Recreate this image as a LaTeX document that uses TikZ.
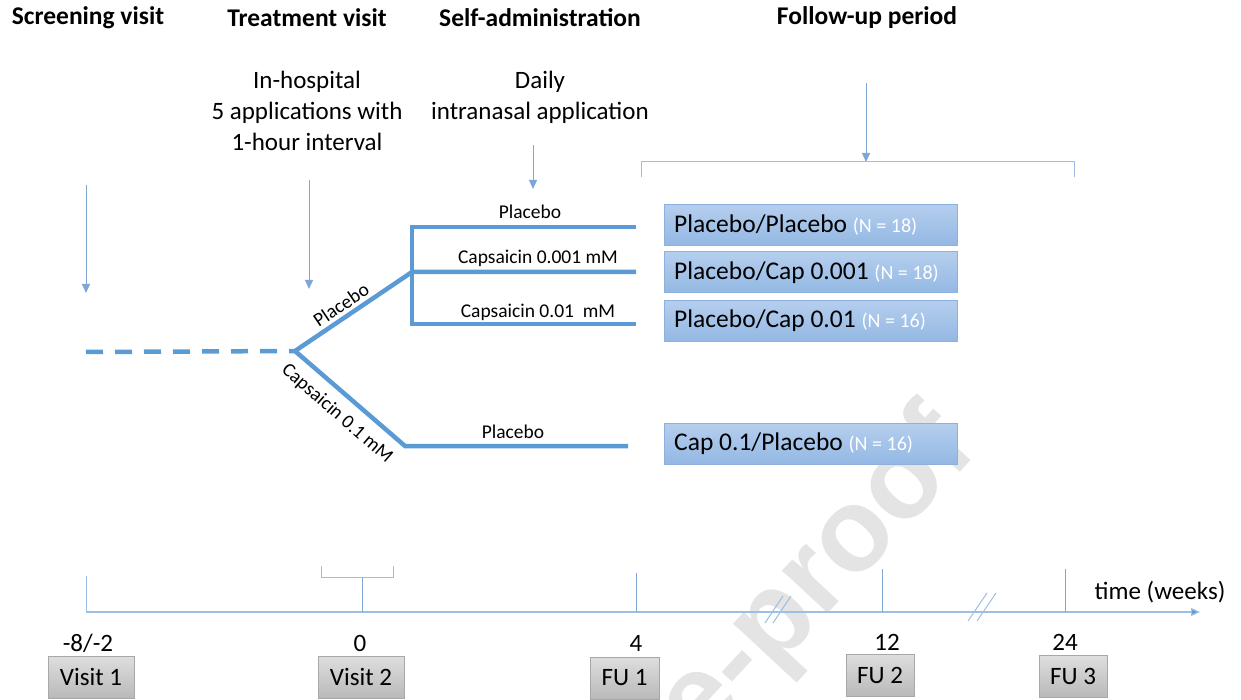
\documentclass[tikz,border=0pt]{standalone}
\usepackage{fontspec}
\setmainfont{Carlito}
\newfontfamily\wmfont{Liberation Sans}
\usetikzlibrary{arrows.meta}
\definecolor{accblue}{HTML}{5B9BD5}
\definecolor{thinblue}{HTML}{7EA6D6}
\definecolor{axisblue}{HTML}{9DBFE3}
\definecolor{boxtop}{HTML}{B5CEEE}
\definecolor{boxbot}{HTML}{93B8E3}
\definecolor{boxline}{HTML}{8DB1DD}
\definecolor{greytop}{HTML}{DEDEDE}
\definecolor{greybot}{HTML}{B9B9B9}
\definecolor{greyline}{HTML}{A8A8A8}
\definecolor{wmgrey}{HTML}{E4E4E4}
\newcommand\nlabtxt[1]{{\fontsize{20}{22}\selectfont\color{white}#1}}
\tikzset{
  head/.style={font=\fontsize{25.5}{30}\selectfont\bfseries, inner sep=0pt},
  body/.style={font=\fontsize{25}{31}\selectfont, inner sep=0pt, align=center},
  small/.style={font=\fontsize{19.5}{23}\selectfont, inner sep=0pt},
  tree/.style={draw=accblue, line width=4.5pt},
  thinarrow/.style={draw=thinblue, line width=1pt, -{Triangle[width=8pt,length=9pt]}},
  thinline/.style={draw=thinblue, line width=1pt},
  grpbox/.style={draw=boxline, line width=1pt, top color=boxtop, bottom color=boxbot,
    minimum width=293pt, minimum height=41pt, anchor=west, inner sep=0pt},
  grptext/.style={anchor=west, inner sep=0pt, font=\fontsize{25.5}{30}\selectfont},
  visitbox/.style={draw=greyline, line width=1pt, top color=greytop, bottom color=greybot,
    minimum height=42pt, inner sep=0pt, font=\fontsize{25}{30}\selectfont},
  num/.style={font=\fontsize{25}{30}\selectfont, inner sep=0pt},
}
\begin{document}
\begin{tikzpicture}[x=1pt,y=-1pt]
\useasboundingbox (0,0) rectangle (1241,700);
\begin{scope}
\clip (0,0) rectangle (1241,700);
\node[rotate=47, text=wmgrey, font=\fontsize{118}{118}\wmfont\bfseries, inner sep=0pt] (wm) at (818,580) {e-proof};
\end{scope}

% headings
\node[head] (h1) at (88,18) {Screening visit};
\node[head] (h2) at (307,18) {Treatment visit};
\node[head] (h3) at (540,18) {Self-administration};
\node[head] (h4) at (867,18) {Follow-up period};

\node[body] (d1) at (307,111) {In-hospital\\5 applications with\\1-hour interval};
\node[body] (d2) at (540,97) {Daily\\intranasal application};

% arrows from top
\coordinate (a1s) at (86,185); \coordinate (a1e) at (86,293);
\coordinate (a2s) at (309,180); \coordinate (a2e) at (309,289);
\coordinate (a3s) at (533,145); \coordinate (a3e) at (533,189);
\coordinate (a4s) at (866,83);  \coordinate (a4e) at (866,162);
\draw[thinarrow] (a1s) -- (a1e);
\draw[thinarrow] (a2s) -- (a2e);
\draw[thinarrow] (a3s) -- (a3e);
\draw[thinarrow] (a4s) -- (a4e);

% follow-up bracket
\coordinate (fb1) at (641,177); \coordinate (fb2) at (641,162);
\coordinate (fb3) at (1074,162); \coordinate (fb4) at (1074,177);
\draw[thinline, draw=axisblue] (fb1) -- (fb2) -- (fb3) -- (fb4);

% tree
\coordinate (s0) at (86,352);
\coordinate (sp) at (295,351);
\coordinate (up) at (412,272);
\coordinate (lo) at (405,446);
\coordinate (v1) at (412,227);
\coordinate (v3) at (412,324);
\coordinate (e1) at (636,227);
\coordinate (e2) at (636,272);
\coordinate (e3) at (636,324);
\coordinate (e4) at (628,446);
\draw[tree, dash pattern=on 17pt off 12pt] (s0) -- (sp);
\draw[tree, line join=miter] (e1) -- (v1) -- (v3) -- (e3);
\draw[tree] (sp) -- (up) -- (e2);
\draw[tree, line join=miter] (sp) -- (lo) -- (e4);

\node[small] (l1) at (530,212) {Placebo};
\node[small] (l2) at (538,258) {Capsaicin 0.001 mM};
\node[small] (l3) at (538,312) {Capsaicin 0.01\ \ mM};
\node[small] (l4) at (513,432) {Placebo};
\node[small, rotate=34] (l5) at (341,305) {Placebo};
\node[small, rotate=-41] (l6) at (337,414) {Capsaicin 0.1 mM};

% group boxes
\node[grpbox] (g1) at (664,225) {};
\node[grpbox] (g2) at (664,272.5) {};
\node[grpbox] (g3) at (664,321) {};
\node[grpbox] (g4) at (664,444) {};
\node[grptext] (g1t) at ([xshift=10pt]g1.west) {Placebo/Placebo \nlabtxt{(N = 18)}};
\node[grptext] (g2t) at ([xshift=10pt]g2.west) {Placebo/Cap 0.001 \nlabtxt{(N = 18)}};
\node[grptext] (g3t) at ([xshift=10pt]g3.west) {Placebo/Cap 0.01 \nlabtxt{(N = 16)}};
\node[grptext] (g4t) at ([xshift=10pt]g4.west) {Cap 0.1/Placebo \nlabtxt{(N = 16)}};

% timeline
\coordinate (t0) at (86,612);
\coordinate (tend) at (1200,612);
\draw[draw=axisblue, line width=1.2pt, -{Triangle[width=8pt,length=9pt,fill=accblue]}] (t0) -- (tend);
\coordinate (k1) at (86,576);
\coordinate (k2t) at (362,577); \coordinate (k2b) at (362,612);
\coordinate (k3t) at (636,573); \coordinate (k3b) at (636,612);
\coordinate (k4t) at (882,569); \coordinate (k4b) at (882,612);
\coordinate (k5t) at (1065,569); \coordinate (k5b) at (1065,612);
\draw[thinline, draw=axisblue] (k1) -- (t0);
\draw[thinline] (k2t) -- (k2b);
\draw[thinline] (k3t) -- (k3b);
\draw[thinline] (k4t) -- (k4b);
\draw[thinline] (k5t) -- (k5b);
\coordinate (b1) at (321,566); \coordinate (b2) at (321,577);
\coordinate (b3) at (393,577); \coordinate (b4) at (393,566);
\draw[thinline, draw=axisblue] (b1) -- (b2) -- (b3) -- (b4);
% breaks
\coordinate (x1a) at (765,623); \coordinate (x1b) at (783,596);
\coordinate (x1c) at (773,623); \coordinate (x1d) at (791,596);
\coordinate (x2a) at (968,621); \coordinate (x2b) at (987,593);
\coordinate (x2c) at (977,621); \coordinate (x2d) at (996,593);
\draw[thinline, draw=axisblue] (x1a) -- (x1b);
\draw[thinline, draw=axisblue] (x1c) -- (x1d);
\draw[thinline, draw=axisblue] (x2a) -- (x2b);
\draw[thinline, draw=axisblue] (x2c) -- (x2d);

\node[num] (tw) at (1160,592) {time (weeks)};
\node[num] (n1) at (88,643) {-8/-2};
\node[num] (n2) at (360,643) {0};
\node[num] (n3) at (636,643) {4};
\node[num] (n4) at (887,642) {12};
\node[num] (n5) at (1065,642) {24};

\node[visitbox, minimum width=86pt] (v1b) at (91,677) {Visit 1};
\node[visitbox, minimum width=86pt] (v2b) at (361,677) {Visit 2};
\node[visitbox, minimum width=69pt] (f1b) at (624.5,678) {FU 1};
\node[visitbox, minimum width=68pt] (f2b) at (880,675) {FU 2};
\node[visitbox, minimum width=68pt] (f3b) at (1073,676.5) {FU 3};
\end{tikzpicture}
\end{document}
